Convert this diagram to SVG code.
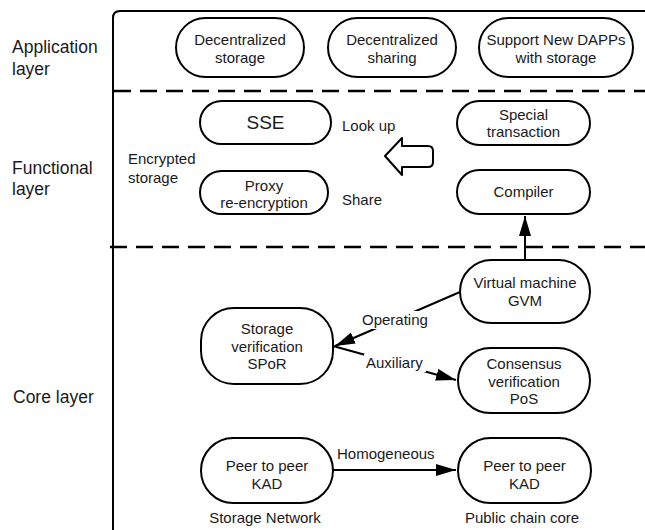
<svg xmlns="http://www.w3.org/2000/svg" width="645" height="530" viewBox="0 0 645 530">
<style>
.node{fill:#fff;stroke:#000;stroke-width:2}
.t{font-family:"Liberation Sans",Arial,sans-serif;font-size:15px;fill:#1a1a1a;text-anchor:middle}
.lbl{font-family:"Liberation Sans",Arial,sans-serif;font-size:15px;fill:#1a1a1a}
.layer{font-family:"Liberation Sans",Arial,sans-serif;font-size:17.5px;fill:#1a1a1a}
.edge{stroke:#000;stroke-width:2;fill:none}
.dash{stroke:#000;stroke-width:2.5;stroke-dasharray:17 9;fill:none}
</style>
<defs>
<marker id="ah" markerUnits="userSpaceOnUse" markerWidth="22" markerHeight="14" refX="20" refY="6" orient="auto">
<path d="M0,0 L20,6 L0,12 Z" fill="#000"/>
</marker>
</defs>
<rect width="645" height="530" fill="#fff"/>
<g id="frame">
<path d="M113,535 L113,18 Q113,11 120,11 L650,11" fill="none" stroke="#000" stroke-width="2"/>
<line class="dash" x1="114" y1="91" x2="645" y2="91"/>
<line class="dash" x1="110" y1="247" x2="645" y2="247"/>
</g>
<g id="layers">
<text class="layer" x="12" y="53">Application</text>
<text class="layer" x="12" y="75">layer</text>
<text class="layer" x="12" y="174">Functional</text>
<text class="layer" x="12" y="195">layer</text>
<text class="layer" x="13" y="403">Core layer</text>
<text class="lbl" x="128" y="164">Encrypted</text>
<text class="lbl" x="128" y="183">storage</text>
</g>
<g id="connectors">
<line class="edge" x1="460" y1="292" x2="335" y2="346" marker-end="url(#ah)"/>
<line class="edge" x1="333" y1="346" x2="456" y2="380" marker-end="url(#ah)"/>
<line class="edge" x1="525" y1="260" x2="525" y2="216" marker-end="url(#ah)"/>
<line class="edge" x1="333" y1="470" x2="456" y2="470" marker-end="url(#ah)"/>
<rect x="360" y="311" width="70" height="18" fill="#fff"/>
<text class="lbl" x="362" y="325">Operating</text>
<rect x="364" y="354" width="62" height="18" fill="#fff"/>
<text class="lbl" x="366" y="368">Auxiliary</text>
<text class="lbl" x="337" y="459">Homogeneous</text>
<text class="lbl" x="342" y="131">Look up</text>
<text class="lbl" x="342" y="205">Share</text>
<path d="M385,156 L402,138 L402,146 L428,146 Q433,146 433,151 L433,162 Q433,167 428,167 L402,167 L402,175 Z" fill="#fff" stroke="#000" stroke-width="2" stroke-linejoin="round"/>
</g>
<g id="n-dstorage">
<rect class="node" x="176" y="18" width="128" height="59" rx="29.5"/>
<text class="t" x="240" y="45">Decentralized</text>
<text class="t" x="240" y="62.5">storage</text>
</g>
<g id="n-dsharing">
<rect class="node" x="328" y="18" width="128" height="59" rx="29.5"/>
<text class="t" x="392" y="45">Decentralized</text>
<text class="t" x="392" y="62.5">sharing</text>
</g>
<g id="n-dapps">
<rect class="node" x="479" y="18" width="154" height="59" rx="29.5"/>
<text class="t" x="556" y="45">Support New DAPPs</text>
<text class="t" x="556" y="62.5">with storage</text>
</g>
<g id="n-sse">
<rect class="node" x="200" y="101" width="131" height="43" rx="21.5"/>
<text x="265.5" y="129" style="font-family:'Liberation Sans',Arial,sans-serif;font-size:19px;text-anchor:middle;fill:#1a1a1a">SSE</text>
</g>
<g id="n-proxy">
<rect class="node" x="200" y="171" width="128" height="43" rx="21.5"/>
<text class="t" x="264" y="190.5">Proxy</text>
<text class="t" x="264" y="208">re-encryption</text>
</g>
<g id="n-special">
<rect class="node" x="457" y="101" width="133" height="44" rx="22"/>
<text class="t" x="523.5" y="119.5">Special</text>
<text class="t" x="523.5" y="137">transaction</text>
</g>
<g id="n-compiler">
<rect class="node" x="457" y="170" width="133" height="44" rx="22"/>
<text class="t" x="523.5" y="197">Compiler</text>
</g>
<g id="n-gvm">
<rect class="node" x="460" y="260" width="130" height="63" rx="31.5"/>
<text class="t" x="525" y="288">Virtual machine</text>
<text class="t" x="525" y="305.5">GVM</text>
</g>
<g id="n-spor">
<rect class="node" x="201" y="308" width="132" height="76" rx="33"/>
<text class="t" x="267" y="334">Storage</text>
<text class="t" x="267" y="351.5">verification</text>
<text class="t" x="267" y="369">SPoR</text>
</g>
<g id="n-pos">
<rect class="node" x="458" y="348" width="132" height="65" rx="32.5"/>
<text class="t" x="524" y="369">Consensus</text>
<text class="t" x="524" y="386.5">verification</text>
<text class="t" x="524" y="404">PoS</text>
</g>
<g id="n-kad1">
<rect class="node" x="201" y="438" width="132" height="65" rx="32.5"/>
<text class="t" x="267" y="471">Peer to peer</text>
<text class="t" x="267" y="488.5">KAD</text>
</g>
<g id="n-kad2">
<rect class="node" x="458" y="438" width="133" height="65" rx="32.5"/>
<text class="t" x="524.5" y="471">Peer to peer</text>
<text class="t" x="524.5" y="488.5">KAD</text>
</g>
<g id="footer">
<text class="lbl" x="265" y="523" text-anchor="middle">Storage Network</text>
<text class="lbl" x="522" y="523" text-anchor="middle">Public chain core</text>
</g>
</svg>
